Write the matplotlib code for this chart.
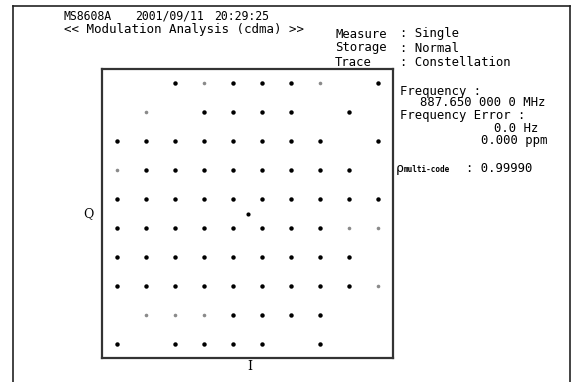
import matplotlib
matplotlib.use("Agg")
import matplotlib.pyplot as plt
from matplotlib.lines import Line2D

# constellation symbols, row by row (Q level -> I levels present)
q_levels = [4.5, 3.5, 2.5, 1.5, 0.5, -0.5, -1.5, -2.5, -3.5, -4.5]
i_per_row = [
    [-2.5, -1.5, -0.5, 0.5, 1.5, 2.5, 4.5],
    [-3.5, -1.5, -0.5, 0.5, 1.5, 3.5],
    [-4.5, -3.5, -2.5, -1.5, -0.5, 0.5, 1.5, 2.5, 4.5],
    [-4.5, -3.5, -2.5, -1.5, -0.5, 0.5, 1.5, 2.5, 3.5],
    [-4.5, -3.5, -2.5, -1.5, -0.5, 0.5, 1.5, 2.5, 3.5, 4.5],
    [-4.5, -3.5, -2.5, -1.5, -0.5, 0.5, 1.5, 2.5, 3.5, 4.5],
    [-4.5, -3.5, -2.5, -1.5, -0.5, 0.5, 1.5, 2.5, 3.5],
    [-4.5, -3.5, -2.5, -1.5, -0.5, 0.5, 1.5, 2.5, 3.5, 4.5],
    [-3.5, -2.5, -1.5, -0.5, 0.5, 1.5, 2.5],
    [-4.5, -2.5, -1.5, -0.5, 0.5, 2.5],
]
# symbols that show up only faintly on the screen
faint_i = [-1.5, 2.5, -3.5, -4.5, 3.5, 4.5, 4.5, -3.5, -2.5, -1.5]
faint_q = [4.5, 4.5, 3.5, 1.5, -0.5, -0.5, -2.5, -3.5, -3.5, -3.5]
origin_i, origin_q = [0.0], [0.0]

header_left = ["MS8608A", "2001/09/11", "20:29:25"]
title_line = "<< Modulation Analysis (cdma) >>"
setup_keys = ["Measure", "Storage", "Trace"]
setup_vals = [": Single", ": Normal", ": Constellation"]
freq_value = "887.650 000 0 MHz"
freq_err_hz = "0.0 Hz"
freq_err_ppm = "0.000 ppm"
rho_value = ": 0.99990"

W, H = 577, 382
mono = "DejaVu Sans Mono"
fs = 8.8


def px(x, y):
    return x / W, 1 - y / H


fig = plt.figure(figsize=(W / 100, H / 100), dpi=100)
fig.patch.set_facecolor("white")

# outer screen frame (bottom edge is cut off by the picture)
x0, x1 = px(13, 0)[0], px(570, 0)[0]
ytop = px(0, 6)[1]
for xs, ys in [([x0, x0], [0, ytop]), ([x0, x1], [ytop, ytop]), ([x1, x1], [ytop, 0])]:
    fig.add_artist(Line2D(xs, ys, transform=fig.transFigure, color="#222222", lw=1.2))

# constellation box
left, top, right, bottom = 102, 69, 393, 358
ax = fig.add_axes([left / W, 1 - bottom / H, (right - left) / W, (bottom - top) / H])
ax.set_xlim(-5, 5)
ax.set_ylim(-5, 5)
ax.set_xticks([])
ax.set_yticks([])
for s in ax.spines.values():
    s.set_linewidth(1.6)
    s.set_color("#333333")

faint = set(zip(faint_i, faint_q))
for q, row in zip(q_levels, i_per_row):
    for i in row:
        if (i, q) in faint:
            ax.plot(i, q, "o", ms=2.6, color="#8a8a8a", mec="none")
        else:
            ax.plot(i, q, "o", ms=3.2, color="black", mec="none")
ax.plot(origin_i, origin_q, "o", ms=3.0, color="black", mec="none")

# axis letters
fig.text(*px(88, 214), "Q", family="DejaVu Serif", fontsize=9, ha="center", va="center")
fig.text(*px(250, 366), "I", family="DejaVu Serif", fontsize=9, ha="center", va="center")

# header
for label, x in zip(header_left, [64, 135, 214]):
    fig.text(*px(x, 16), label, family=mono, fontsize=8.3, va="center")
fig.text(*px(64, 30), title_line, family=mono, fontsize=9, va="center")
for k, (key, val) in enumerate(zip(setup_keys, setup_vals)):
    y = 34 + k * 14
    fig.text(*px(335, y), key, family=mono, fontsize=fs, va="center")
    fig.text(*px(400, y), val, family=mono, fontsize=fs, va="center")

# right side readouts
fig.text(*px(400, 91), "Frequency :", family=mono, fontsize=fs, va="center")
fig.text(*px(545, 103), freq_value, family=mono, fontsize=fs, va="center", ha="right")
fig.text(*px(400, 115), "Frequency Error :", family=mono, fontsize=fs, va="center")
fig.text(*px(538, 128), freq_err_hz, family=mono, fontsize=fs, va="center", ha="right")
fig.text(*px(547, 141), freq_err_ppm, family=mono, fontsize=fs, va="center", ha="right")
fig.text(*px(396, 172), "ρ", family=mono, fontsize=9.5, va="baseline")
fig.text(*px(404, 172), "multi-code", family=mono, fontsize=5.5, va="baseline", weight="bold")
fig.text(*px(466, 172), rho_value, family=mono, fontsize=fs, va="baseline")

fig.savefig("out.png", dpi=100)
